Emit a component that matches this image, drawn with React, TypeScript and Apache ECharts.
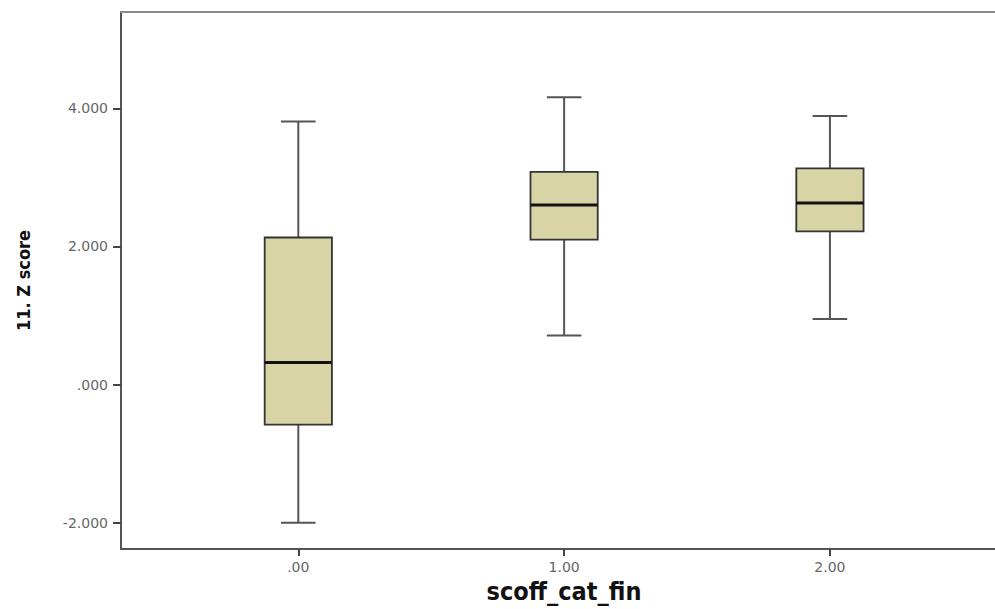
import React, { useEffect, useRef } from "react";
import * as echarts from "echarts";

// ---- data ----
const categories = [".00", "1.00", "2.00"];
const categoryPositions = [0, 1, 2];
const lowerWhisker = [-2.0, 0.71, 0.95];
const q1 = [-0.58, 2.1, 2.22];
const median = [0.32, 2.6, 2.63];
const q3 = [2.13, 3.08, 3.13];
const upperWhisker = [3.81, 4.16, 3.89];
const yTicks = [-2, 0, 2, 4];
const yTickLabels = ["-2.000", ".000", "2.000", "4.000"];
const xTitle = "scoff_cat_fin";
const yTitle = "11. Z score";

const boxData = categoryPositions.map((x, i) => [
  x,
  lowerWhisker[i],
  q1[i],
  median[i],
  q3[i],
  upperWhisker[i],
]);

const X_MIN = -0.667;
const X_MAX = 2.621;

const labelFont = "'DejaVu Sans', Verdana, sans-serif";
const titleFont = "'Liberation Sans Narrow', 'DejaVu Sans Condensed', 'Roboto Condensed', 'Liberation Sans', sans-serif";

export default function App() {
  const ref = useRef<HTMLDivElement>(null);
  useEffect(() => {
    if (!ref.current) return;
    const chart = echarts.init(ref.current, null, { renderer: "svg" });
    chart.setOption({
      animation: false,
      backgroundColor: "#ffffff",
      grid: {
        left: 121,
        top: 12,
        right: 0,
        bottom: 56,
        show: false,
      },
      xAxis: [
        {
          type: "value",
          min: X_MIN,
          max: X_MAX,
          name: xTitle,
          nameLocation: "middle",
          nameGap: 30,
          nameTextStyle: {
            fontFamily: titleFont,
            fontWeight: "bold",
            fontSize: 25,
            color: "#111",
            padding: [0, 0, 0, 12],
          },
          splitLine: { show: false },
          axisLine: { show: true, onZero: false, lineStyle: { color: "#555", width: 2 } },
          axisTick: {
            show: true,
            customValues: categoryPositions,
            length: 7,
            lineStyle: { color: "#444", width: 2 },
          },
          axisLabel: {
            customValues: categoryPositions,
            formatter: (v: number) => categories[categoryPositions.indexOf(Math.round(v))] ?? "",
            fontFamily: labelFont,
            fontSize: 14,
            color: "#666",
            margin: 11,
          },
        },
        {
          type: "value",
          position: "top",
          min: X_MIN,
          max: X_MAX,
          splitLine: { show: false },
          axisLine: { show: true, onZero: false, lineStyle: { color: "#8a8a8a", width: 2 } },
          axisTick: { show: false },
          axisLabel: { show: false },
        },
      ],
      yAxis: {
        type: "value",
        min: -2.38,
        max: 5.395,
        name: yTitle,
        nameLocation: "middle",
        nameRotate: 90,
        nameGap: 89,
        nameTextStyle: {
          fontFamily: titleFont,
          fontWeight: "bold",
          fontSize: 18,
          color: "#111",
        },
        splitLine: { show: false },
        axisLine: { show: true, onZero: false, lineStyle: { color: "#555", width: 2 } },
        axisTick: {
          show: true,
          customValues: yTicks,
          length: 8,
          lineStyle: { color: "#444", width: 2 },
        },
        axisLabel: {
          customValues: yTicks,
          formatter: (v: number) => yTickLabels[yTicks.indexOf(Math.round(v))] ?? "",
          fontFamily: labelFont,
          fontSize: 14,
          color: "#666",
          margin: 13,
        },
      },
      series: [
        {
          type: "custom",
          xAxisIndex: 0,
          data: boxData,
          encode: { x: 0, y: [1, 2, 3, 4, 5] },
          renderItem: (params: any, api: any) => {
            const x = api.value(0);
            const pLow = api.coord([x, api.value(1)]);
            const pQ1 = api.coord([x, api.value(2)]);
            const pMed = api.coord([x, api.value(3)]);
            const pQ3 = api.coord([x, api.value(4)]);
            const pHigh = api.coord([x, api.value(5)]);
            const unit = api.size([1, 0])[0];
            const bw = unit * 0.253;
            const cw = unit * 0.13;
            const cx = pMed[0];
            const whisk = { stroke: "#555", lineWidth: 2 };
            return {
              type: "group",
              children: [
                { type: "line", shape: { x1: cx, y1: pQ3[1], x2: cx, y2: pHigh[1] }, style: whisk },
                { type: "line", shape: { x1: cx, y1: pQ1[1], x2: cx, y2: pLow[1] }, style: whisk },
                { type: "line", shape: { x1: cx - cw / 2, y1: pHigh[1], x2: cx + cw / 2, y2: pHigh[1] }, style: whisk },
                { type: "line", shape: { x1: cx - cw / 2, y1: pLow[1], x2: cx + cw / 2, y2: pLow[1] }, style: whisk },
                {
                  type: "rect",
                  shape: { x: cx - bw / 2, y: pQ3[1], width: bw, height: pQ1[1] - pQ3[1] },
                  style: { fill: "#d9d4a6", stroke: "#333", lineWidth: 1.8 },
                },
                {
                  type: "line",
                  shape: { x1: cx - bw / 2, y1: pMed[1], x2: cx + bw / 2, y2: pMed[1] },
                  style: { stroke: "#111", lineWidth: 3 },
                },
              ],
            };
          },
        },
      ],
    });
    return () => chart.dispose();
  }, []);
  return (
    <div
      ref={ref}
      style={{ position: "absolute", left: 0, top: 0, width: 995, height: 609 }}
    />
  );
}
